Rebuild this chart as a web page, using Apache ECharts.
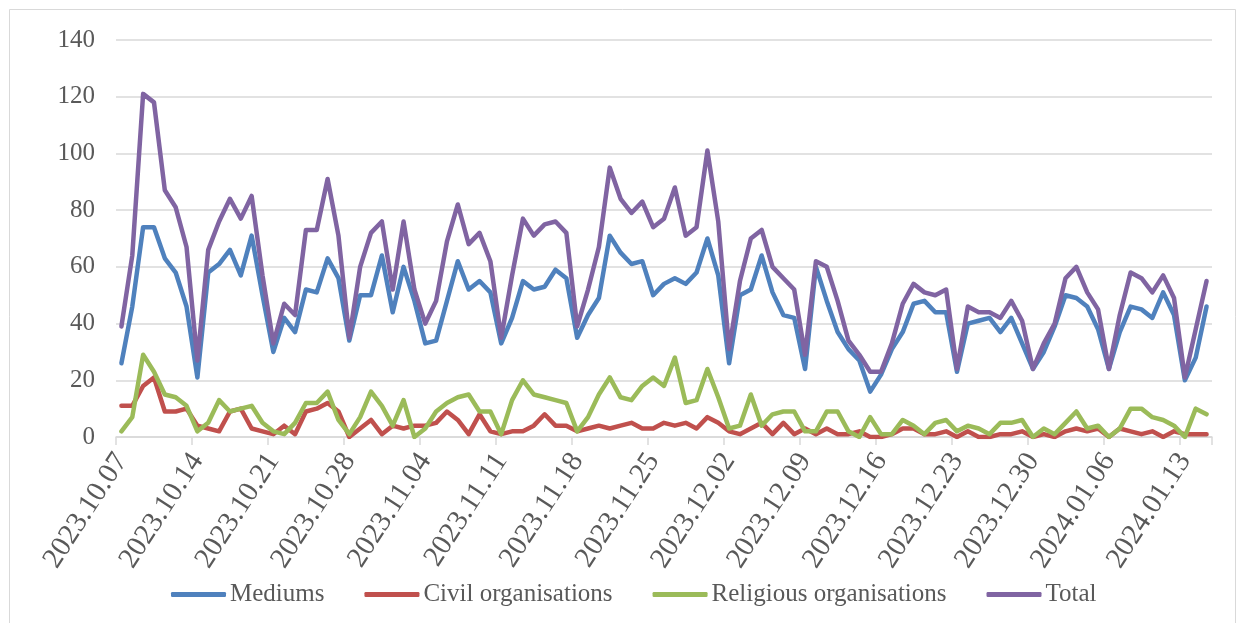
<!DOCTYPE html>
<html>
<head>
<meta charset="utf-8">
<script src="https://cdn.jsdelivr.net/npm/echarts@6/dist/echarts.min.js"></script>
<style>
html,body{margin:0;padding:0;background:#fff;}
#chart{width:1244px;height:623px;}
</style>
</head>
<body>
<div id="chart"></div>
<script>
var categories = [
"2023.10.07","2023.10.08","2023.10.09","2023.10.10","2023.10.11","2023.10.12","2023.10.13","2023.10.14","2023.10.15","2023.10.16",
"2023.10.17","2023.10.18","2023.10.19","2023.10.20","2023.10.21","2023.10.22","2023.10.23","2023.10.24","2023.10.25","2023.10.26",
"2023.10.27","2023.10.28","2023.10.29","2023.10.30","2023.10.31","2023.11.01","2023.11.02","2023.11.03","2023.11.04","2023.11.05",
"2023.11.06","2023.11.07","2023.11.08","2023.11.09","2023.11.10","2023.11.11","2023.11.12","2023.11.13","2023.11.14","2023.11.15",
"2023.11.16","2023.11.17","2023.11.18","2023.11.19","2023.11.20","2023.11.21","2023.11.22","2023.11.23","2023.11.24","2023.11.25",
"2023.11.26","2023.11.27","2023.11.28","2023.11.29","2023.11.30","2023.12.01","2023.12.02","2023.12.03","2023.12.04","2023.12.05",
"2023.12.06","2023.12.07","2023.12.08","2023.12.09","2023.12.10","2023.12.11","2023.12.12","2023.12.13","2023.12.14","2023.12.15",
"2023.12.16","2023.12.17","2023.12.18","2023.12.19","2023.12.20","2023.12.21","2023.12.22","2023.12.23","2023.12.24","2023.12.25",
"2023.12.26","2023.12.27","2023.12.28","2023.12.29","2023.12.30","2023.12.31","2024.01.01","2024.01.02","2024.01.03","2024.01.04",
"2024.01.05","2024.01.06","2024.01.07","2024.01.08","2024.01.09","2024.01.10","2024.01.11","2024.01.12","2024.01.13","2024.01.14",
"2024.01.15"
];

var mediums = [
26,46,74,74,63,58,46,21,58,61,66,57,71,50,30,42,37,
52,51,63,56,34,50,50,64,44,60,48,33,34,48,62,52,55,
51,33,42,55,52,53,59,56,35,43,49,71,65,61,62,50,54,
56,54,58,70,57,26,50,52,64,51,43,42,24,60,48,37,31,
27,16,22,31,37,47,48,44,44,23,40,41,42,37,42,33,24,
30,39,50,49,46,38,24,37,46,45,42,51,43,20,28,46
];

var civil = [
11,11,18,21,9,9,10,4,3,2,9,10,3,2,1,4,1,
9,10,12,9,0,3,6,1,4,3,4,4,5,9,6,1,8,
2,1,2,2,4,8,4,4,2,3,4,3,4,5,3,3,5,
4,5,3,7,5,2,1,3,5,1,5,1,3,1,3,1,1,
2,0,0,1,3,3,1,1,2,0,2,0,0,1,1,2,0,
1,0,2,3,2,3,0,3,2,1,2,0,2,1,1,1
];

var religious = [
2,7,29,23,15,14,11,2,5,13,9,10,11,5,2,1,5,
12,12,16,6,1,7,16,11,4,13,0,3,9,12,14,15,9,
9,1,13,20,15,14,13,12,2,7,15,21,14,13,18,21,18,
28,12,13,24,14,3,4,15,4,8,9,9,2,2,9,9,2,
0,7,1,1,6,4,1,5,6,2,4,3,1,5,5,6,0,
3,1,5,9,3,4,0,3,10,10,7,6,4,0,10,8
];

var total = [
39,64,121,118,87,81,67,27,66,76,84,77,85,57,33,47,43,
73,73,91,71,35,60,72,76,52,76,52,40,48,69,82,68,72,
62,35,57,77,71,75,76,72,39,52,67,95,84,79,83,74,77,
88,71,74,101,76,31,55,70,73,60,56,52,29,62,60,48,34,
29,23,23,33,47,54,51,50,52,24,46,44,44,42,48,41,24,
33,40,56,60,51,45,24,43,58,56,51,57,49,21,38,55
];

var seriesNames = ["Mediums","Civil organisations","Religious organisations","Total"];
var seriesColors = ["#4F81BD","#C0504D","#9BBB59","#8064A2"];
var yTicks = {min:0, max:140, interval:20};

var font = "'Liberation Serif', 'Times New Roman', serif";
var txt = "#595959";
var grid = "#D9D9D9";

var chart = echarts.init(document.getElementById('chart'), null, {renderer:'canvas'});
var data = [mediums, civil, religious, total];
var series = data.map(function(d,i){
  return {
    name: seriesNames[i],
    type: 'line',
    data: d,
    symbol: 'none',
    smooth: false,
    lineStyle: {width: 4.5, color: seriesColors[i], join: 'round', cap: 'round'},
    itemStyle: {color: seriesColors[i]},
    emphasis: {disabled: true},
    animation: false
  };
});

chart.setOption({
  animation: false,
  backgroundColor: '#fff',
  graphic: [{
    type: 'rect', silent: true,
    shape: {x: 9.5, y: 9.5, width: 1226, height: 640},
    style: {fill: 'none', stroke: '#D9D9D9', lineWidth: 1}
  }],
  grid: {left: 116, right: 32, top: 40, bottom: 186, containLabel: false},
  legend: {
    data: seriesNames,
    left: 166, top: 577,
    itemWidth: 55, itemHeight: 5, itemGap: 40,
    icon: 'roundRect',
    textStyle: {fontFamily: font, fontSize: 25, color: txt, padding: [0,0,0,-1]}
  },
  xAxis: {
    type: 'category',
    data: categories,
    boundaryGap: true,
    axisLine: {show: true, lineStyle: {color: grid, width: 1.5}},
    axisTick: {show: true, interval: 6, length: 8, lineStyle: {color: grid, width: 1.5}},
    axisLabel: {interval: 6, rotate: 57, margin: 19, fontFamily: font, fontSize: 29, color: txt},
    splitLine: {show: false}
  },
  yAxis: {
    type: 'value',
    min: yTicks.min, max: yTicks.max, interval: yTicks.interval,
    axisLine: {show: false},
    axisTick: {show: false},
    axisLabel: {margin: 21, fontFamily: font, fontSize: 25, color: txt},
    splitLine: {show: true, lineStyle: {color: grid, width: 1.5}}
  },
  series: series
});
</script>
</body>
</html>
